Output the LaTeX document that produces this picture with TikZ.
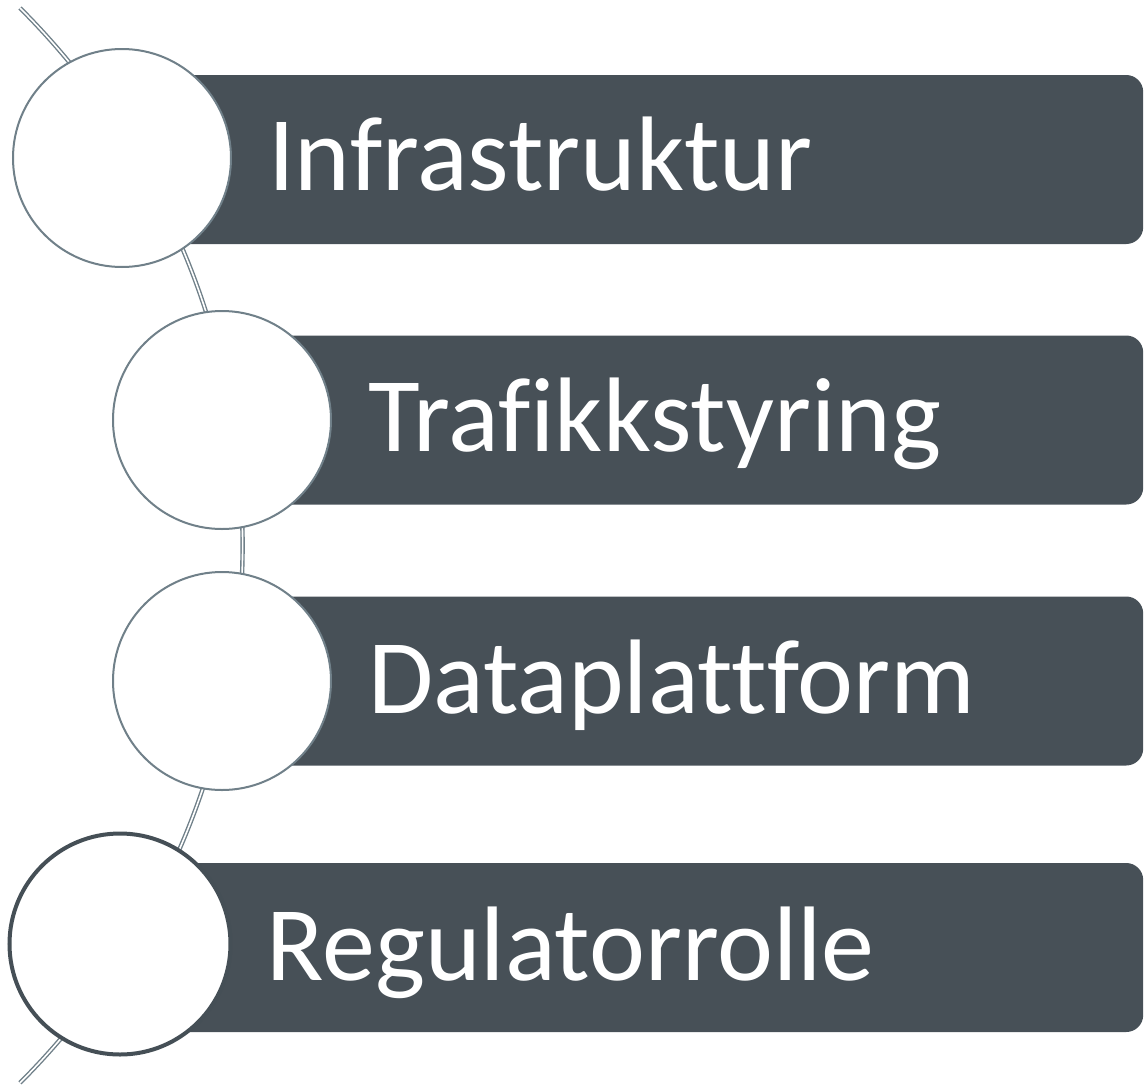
\documentclass[tikz,border=0pt]{standalone}
\usepackage{fontspec}
\setmainfont{Carlito}[Ligatures=NoCommon]
\usetikzlibrary{positioning}
\definecolor{barfill}{HTML}{475057}
\definecolor{ringline}{HTML}{708089}
\definecolor{ringdark}{HTML}{454F56}
\tikzset{
  bar/.style={fill=barfill, rounded corners=17pt, minimum height=169pt, anchor=west, inner sep=0pt},
  ring/.style={circle, draw=ringline, line width=2pt, fill=white, minimum size=218pt, inner sep=0pt},
  lastring/.style={ring, draw=ringdark, line width=4pt, minimum size=221pt},
  steptext/.style={text=white, font=\fontsize{106}{106}\selectfont, inner sep=0pt, text height=68pt, text depth=0pt},
}

\begin{document}
\begin{tikzpicture}[x=1pt,y=1pt]
    \useasboundingbox (0,0) rectangle (1145,-1087);
    % backbone arc
    \draw[ringline, line width=1.4pt, double=white, double distance=1.6pt] (20,-8) arc[start angle=45, end angle=-45, radius=760];

    % bars
    \node[bar, minimum width=1021pt] (b1) at (122,-159.5) {};
    \node[bar, minimum width=921pt] (b2) at (222,-420) {};
    \node[bar, minimum width=921pt] (b3) at (222,-681) {};
    \node[bar, minimum width=1023pt] (b4) at (120,-947.5) {};

    % rings
    \node[ring] (c1) at (122,-158) {};
    \node[ring] (c2) at (222,-420) {};
    \node[ring] (c3) at (222,-681) {};
    \node[lastring] (c4) at (120,-944) {};

    \node[steptext, right=36pt of c1, yshift=2pt] (t1) {Infrastruktur};
    \node[steptext, right=36pt of c2, yshift=3pt] (t2) {Trafikkstyring};
    \node[steptext, right=36pt of c3, yshift=2pt] (t3) {Dataplattform};
    \node[steptext, right=34pt of c4, yshift=-2.5pt] (t4) {Regulatorrolle};
\end{tikzpicture}
\end{document}
